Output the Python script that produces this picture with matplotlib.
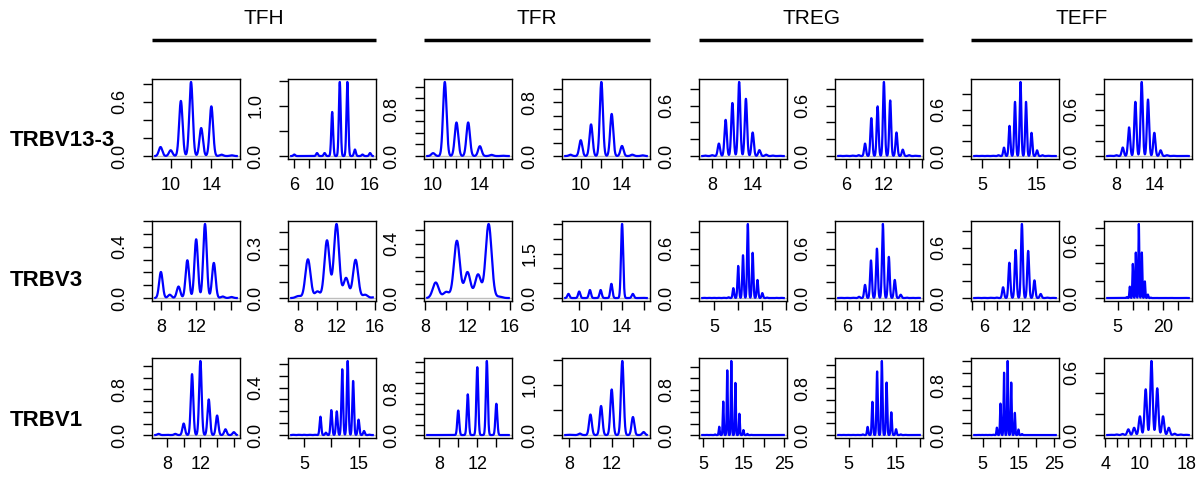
import numpy as np
import matplotlib.pyplot as plt
from matplotlib.lines import Line2D

plt.rcParams['font.family'] = ['Liberation Sans', 'DejaVu Sans']

W, H = 1204, 488

GROUPS = ["TFH", "TFR", "TREG", "TEFF"]
GENES = ["TRBV13-3", "TRBV3", "TRBV1"]

# ---- row TRBV13-3 (8 panels: TFH x2, TFR x2, TREG x2, TEFF x2)
START_A = [9, 6, 10, 9, 7, 5, 4, 7]
HEIGHTS_A = [
    [0.10, 0.064, 0.61, 0.82, 0.31, 0.55, 0.015, 0.008],
    [0.03, 0, 0, 0.06, 0.06, 0.88, 1.48, 1.48, 0.13, 0.03, 0.06],
    [0.05, 1.28, 0.58, 0.58, 0.17, 0.02, 0.005],
    [0.02, 0.235, 0.47, 1.10, 0.625, 0.15, 0.02, 0.01],
    [0.005, 0.01, 0.148, 0.43, 0.63, 0.88, 0.68, 0.28, 0.07, 0.016, 0.005, 0.003],
    [0.003, 0.003, 0.005, 0.01, 0.148, 0.45, 0.59, 0.88, 0.66, 0.28, 0.076, 0.01, 0.003],
    [0.002, 0.002, 0.002, 0.003, 0.01, 0.109, 0.39, 0.70, 0.957, 0.70, 0.30, 0.074, 0.01, 0.003, 0.002],
    [0.003, 0.01, 0.11, 0.37, 0.70, 0.957, 0.73, 0.30, 0.074, 0.01, 0.003, 0.002, 0.002],
]
BW_A = [0.17, 0.12, 0.15, 0.15, 0.17, 0.15, 0.15, 0.17]
RANGE_A = [(8.48, 16.5), (5.6, 16.35), (9.5, 16.47), (8.5, 16.4),
           (6.54, 18.6), (4.74, 17.7), (3.6, 18.4), (6.55, 19.45)]
YSTEP_A = [0.2, 0.5, 0.2, 0.2, 0.2, 0.2, 0.2, 0.2]
YLAB_A = [[0.0, 0.6], [0.0, 1.0], [0.0, 0.8], [0.0, 0.8],
          [0.0, 0.6], [0.0, 0.6], [0.0, 0.6], [0.0, 0.6]]
XSTEP_A = [2, 2, 1, 2, 2, 2, 5, 2]
XLAB_A = [[10, 14], [6, 10, 16], [10, 14], [10, 14],
          [8, 14], [6, 12], [5, 15], [8, 14]]

# ---- row TRBV3
START_B = [8, 8, 9, 9, 3, 5, 5, 2]
HEIGHTS_B = [
    [0.204, 0.026, 0.09, 0.296, 0.46, 0.58, 0.275, 0.012, 0.008],
    [0.012, 0.235, 0.04, 0.35, 0.449, 0.122, 0.232, 0.02, 0.005],
    [0.114, 0.045, 0.42, 0.19, 0.173, 0.543, 0.01],
    [0.14, 0.22, 0.27, 0.27, 0.48, 2.5, 0.14, 0.005],
    [0.002, 0.002, 0.002, 0.002, 0.003, 0.01, 0.12, 0.39, 0.52, 0.90, 0.55, 0.22, 0.06,
     0.005, 0.002, 0.002, 0.002],
    [0.002, 0.002, 0.003, 0.015, 0.16, 0.457, 0.60, 0.90, 0.50, 0.22, 0.04, 0.005, 0.002, 0.002],
    [0.002, 0.002, 0.003, 0.005, 0.128, 0.42, 0.57, 0.88, 0.56, 0.21, 0.048, 0.005, 0.002],
    [0.001, 0.001, 0.001, 0.001, 0.001, 0.001, 0.01, 0.13, 0.39, 0.52, 0.846, 0.52, 0.19,
     0.04, 0.005, 0.001, 0.001, 0.001, 0.001, 0.001, 0.001, 0.001, 0.001, 0.001, 0.001,
     0.001, 0.001],
]
BW_B = [0.2, 0.27, 0.28, 0.1, 0.15, 0.15, 0.15, 0.15]
RANGE_B = [(7.36, 16.6), (7.25, 15.8), (8.2, 15.9), (8.7, 16.3),
           (2.55, 19.45), (4.5, 18.2), (4.4, 17.4), (1.5, 28.6)]
YSTEP_B = [0.1, 0.1, 0.1, 0.5, 0.2, 0.2, 0.2, 0.2]
YLAB_B = [[0.0, 0.4], [0.0, 0.3], [0.0, 0.4], [0.0, 1.5],
          [0.0, 0.6], [0.0, 0.6], [0.0, 0.6], [0.0, 0.6]]
XSTEP_B = [2, 2, 2, 2, 5, 2, 2, 5]
XLAB_B = [[8, 12], [8, 12, 16], [8, 12, 16], [10, 14],
          [5, 15], [6, 12, 18], [6, 12], [5, 20]]

# ---- row TRBV1
START_C = [7, 3, 7, 8, 5, 3, 3, 5]
HEIGHTS_C = [
    [0.02, 0.005, 0.02, 0.2, 1.06, 1.29, 0.62, 0.34, 0.1, 0.05],
    [0.002, 0.002, 0.002, 0.002, 0.002, 0.155, 0.02, 0.21, 0.2, 0.555, 0.625, 0.456, 0.13,
     0.034, 0.003],
    [0.002, 0.0, 0.0, 0.47, 0.78, 1.30, 1.42, 0.60, 0.002],
    [0.005, 0.03, 0.41, 0.58, 0.91, 1.48, 0.36, 0.06],
    [0.002, 0.002, 0.002, 0.01, 0.147, 0.59, 1.14, 1.306, 0.92, 0.376, 0.088, 0.02, 0.003,
     0.001, 0.001, 0.001, 0.001, 0.001, 0.001, 0.001, 0.001],
    [0.002, 0.002, 0.002, 0.002, 0.002, 0.01, 0.14, 0.57, 1.09, 1.27, 0.90, 0.39, 0.1,
     0.01, 0.003, 0.001, 0.001, 0.001],
    [0.002, 0.002, 0.002, 0.002, 0.002, 0.005, 0.12, 0.51, 1.01, 1.2, 0.85, 0.36, 0.09,
     0.016, 0.001, 0.001, 0.001, 0.001, 0.001, 0.001, 0.001, 0.001, 0.001],
    [0.002, 0.005, 0.01, 0.055, 0.07, 0.18, 0.44, 0.713, 0.45, 0.18, 0.07, 0.013, 0.005, 0.002],
]
BW_C = [0.15, 0.15, 0.1, 0.13, 0.12, 0.13, 0.13, 0.2]
RANGE_C = [(6.6, 16.35), (2.65, 17.6), (6.75, 15.3), (7.63, 15.3),
           (4.8, 25.0), (2.8, 20.0), (2.7, 25.4), (4.35, 18.45)]
YSTEP_C = [0.2, 0.1, 0.2, 0.5, 0.2, 0.2, 0.2, 0.2]
YLAB_C = [[0.0, 0.8], [0.0, 0.4], [0.0, 0.8], [0.0, 1.0],
          [0.0, 0.8], [0.0, 0.8], [0.0, 0.8], [0.0, 0.6]]
XSTEP_C = [2, 5, 2, 2, 5, 5, 5, 2]
XLAB_C = [[8, 12], [5, 15], [8, 12], [8, 12],
          [5, 15, 25], [5, 15], [5, 15, 25], [4, 10, 18]]

ROWS = [
    (START_A, HEIGHTS_A, BW_A, RANGE_A, YSTEP_A, YLAB_A, XSTEP_A, XLAB_A),
    (START_B, HEIGHTS_B, BW_B, RANGE_B, YSTEP_B, YLAB_B, XSTEP_B, XLAB_B),
    (START_C, HEIGHTS_C, BW_C, RANGE_C, YSTEP_C, YLAB_C, XSTEP_C, XLAB_C),
]

# layout in pixels
COL_LEFT = [152, 288, 424, 562, 699, 835, 971, 1104]
ROW_TOP = [79, 221, 358]
PW, PH = 88, 80


def steps_in(lo, hi, step):
    k0 = int(np.ceil(lo / step - 1e-9))
    k1 = int(np.floor(hi / step + 1e-9))
    return [round(k * step, 6) for k in range(k0, k1 + 1)]


def draw_panel(ax, start, heights, bw, rng, ystep, ylab, xstep, xlab):
    xs = np.linspace(rng[0], rng[1], 1500)
    ys = np.zeros_like(xs)
    for i, h in enumerate(heights):
        ys += h * np.exp(-0.5 * ((xs - (start + i)) / bw) ** 2)
    span = rng[1] - rng[0]
    xlim = (rng[0] - 0.04 * span, rng[1] + 0.04 * span)
    ymax = ys.max()
    ylim = (-0.04 * ymax, 1.04 * ymax)

    ax.axhline(0, color="#bebebe", lw=1.0, zorder=1)
    ax.plot(xs, ys, color="#0000ff", lw=1.6, zorder=2)
    ax.set_xlim(xlim)
    ax.set_ylim(ylim)

    xt = steps_in(xlim[0], xlim[1], xstep)
    yt = steps_in(0, ylim[1], ystep)
    ax.set_xticks(xt)
    ax.set_xticklabels([str(int(v)) if any(abs(v - l) < 1e-6 for l in xlab) else "" for v in xt])
    ax.set_yticks(yt)
    ax.set_yticklabels([f"{v:.1f}" if any(abs(v - l) < 1e-6 for l in ylab) else "" for v in yt])

    ax.tick_params(axis="both", direction="out", length=6.5, width=1.0,
                   labelsize=13, colors="black")
    ax.tick_params(axis="x", pad=6.5)
    ax.tick_params(axis="y", pad=10.5, labelrotation=90)
    for lab in ax.get_yticklabels():
        lab.set_va("center")
    for sp in ax.spines.values():
        sp.set_linewidth(1.0)


fig = plt.figure(figsize=(W / 100, H / 100), dpi=100)

for r, row in enumerate(ROWS):
    start, heights, bws, rngs, ysteps, ylabs, xsteps, xlabs = row
    for c in range(8):
        ax = fig.add_axes([COL_LEFT[c] / W, 1 - (ROW_TOP[r] + PH) / H, PW / W, PH / H])
        draw_panel(ax, start[c], heights[c], bws[c], rngs[c], ysteps[c], ylabs[c],
                   xsteps[c], xlabs[c])

# column group headers with bars
for g, name in enumerate(GROUPS):
    x0 = COL_LEFT[2 * g]
    x1 = COL_LEFT[2 * g + 1] + PW
    fig.add_artist(Line2D([x0 / W, x1 / W], [1 - 40 / H, 1 - 40 / H],
                          color="black", lw=2.5, solid_capstyle="butt"))
    fig.text((x0 + x1) / 2 / W, 1 - 18 / H, name, ha="center", va="center", fontsize=15)

# row labels
ROW_LABEL_Y = [140, 281, 420]
for r, gene in enumerate(GENES):
    fig.text(10 / W, 1 - ROW_LABEL_Y[r] / H, gene, ha="left", va="center",
             fontsize=16, fontweight="bold")

fig.savefig("out.png", dpi=100)
